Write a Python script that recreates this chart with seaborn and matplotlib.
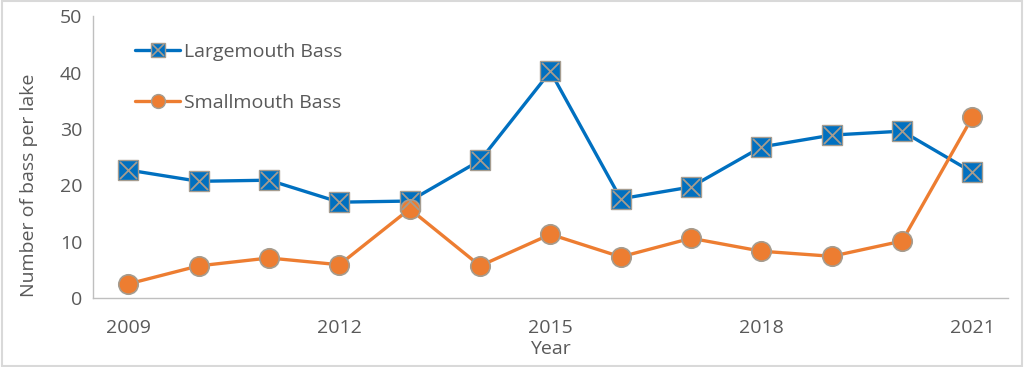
import numpy as np
import pandas as pd
import seaborn as sns
import matplotlib.pyplot as plt
from matplotlib.lines import Line2D
from matplotlib.patches import Rectangle
from matplotlib.legend_handler import HandlerTuple

years = list(range(2009, 2022))
largemouth = [22.7, 20.7, 20.9, 17.0, 17.2, 24.4, 40.2, 17.6, 19.7, 26.8, 28.9, 29.6, 22.3]
smallmouth = [2.5, 5.7, 7.1, 5.9, 15.8, 5.7, 11.3, 7.3, 10.6, 8.3, 7.4, 10.1, 32.1]
xticks = [2009, 2012, 2015, 2018, 2021]

blue = '#0070C0'
orange = '#ED7D31'
edge = '#A59C8F'
text_col = '#595959'
fs = 14

sns.set_style('white')
plt.rcParams['font.family'] = ['Open Sans', 'DejaVu Sans']

df = pd.DataFrame({'Year': years, 'Largemouth Bass': largemouth, 'Smallmouth Bass': smallmouth})

fig = plt.figure(figsize=(10.24, 3.67), dpi=100)
ax = fig.add_axes([0.091, 0.188, 0.893, 0.768])

sns.lineplot(data=df, x='Year', y='Largemouth Bass', ax=ax, color=blue, lw=2.4,
             marker='s', markersize=15, markerfacecolor=blue, markeredgecolor=edge,
             markeredgewidth=1.0, zorder=3)
sns.scatterplot(data=df, x='Year', y='Largemouth Bass', ax=ax, marker='x', s=150,
                color=edge, linewidth=1.3, zorder=4)
sns.lineplot(data=df, x='Year', y='Smallmouth Bass', ax=ax, color=orange, lw=2.4,
             marker='o', markersize=14, markerfacecolor=orange, markeredgecolor=edge,
             markeredgewidth=1.2, zorder=3)

ax.set_xlim(2008.5, 2021.5)
ax.set_ylim(0, 50)
ax.set_xticks(xticks)
ax.set_yticks(range(0, 51, 10))
ax.tick_params(axis='both', colors=text_col, labelsize=fs, length=0)
ax.tick_params(axis='x', pad=15)
ax.tick_params(axis='y', pad=8)
ax.set_xlabel('Year', fontsize=fs, color=text_col)
ax.xaxis.set_label_coords(0.5, -0.15)
ax.set_ylabel('Number of bass per lake', fontsize=fs, color=text_col)
ax.yaxis.set_label_coords(-0.06, 0.40)

for s in ['top', 'right']:
    ax.spines[s].set_visible(False)
for s in ['left', 'bottom']:
    ax.spines[s].set_color('#BFBFBF')
    ax.spines[s].set_linewidth(1.0)

h1 = (Line2D([], [], color=blue, lw=2.4, marker='s', markersize=10,
             markerfacecolor=blue, markeredgecolor=edge),
      Line2D([], [], ls='none', marker='x', markersize=9, color=edge, markeredgewidth=1.2))
h2 = Line2D([], [], color=orange, lw=2.4, marker='o', markersize=10,
            markerfacecolor=orange, markeredgecolor=edge)
ax.legend([h1, h2], ['Largemouth Bass', 'Smallmouth Bass'], loc='upper left',
          bbox_to_anchor=(0.046, 0.905), borderaxespad=0, borderpad=0,
          frameon=False, fontsize=fs, labelcolor=text_col,
          handlelength=2.3, handletextpad=0.2, labelspacing=1.7,
          handler_map={tuple: HandlerTuple(ndivide=1, pad=0)})

fig.patches.append(Rectangle((0.002, 0.004), 0.996, 0.992, transform=fig.transFigure,
                             fill=False, edgecolor='#D9D9D9', lw=1.5))

plt.savefig('out.png', dpi=100)
